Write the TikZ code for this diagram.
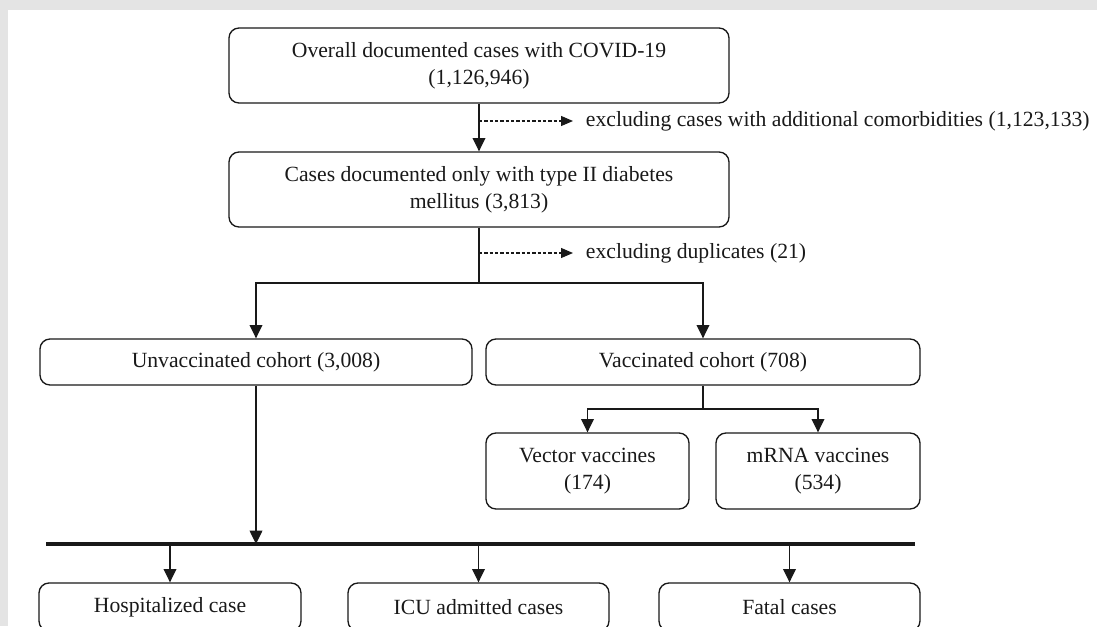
\documentclass[tikz,border=0pt]{standalone}
\usepackage{fontspec}
\setmainfont{Liberation Serif}
\usetikzlibrary{arrows.meta,calc}
\newdimen\pxu \pxu=0.75pt
\definecolor{bggray}{RGB}{228,228,228}
\definecolor{ink}{RGB}{25,25,25}
\begin{document}
\begin{tikzpicture}[x=0.75pt,y=-0.75pt,
  every node/.style={font=\fontsize{16.25}{20.5}\selectfont, text=ink},
  box/.style={draw=ink, line width=1pt, rounded corners=7.5pt, align=center, inner sep=0pt},
  arr/.style={draw=ink, line width=1.05pt, -{Triangle[length=10pt,width=9.5pt]}},
  darr/.style={draw=ink, line width=0.9pt, dash pattern=on 2.4pt off 1.6pt, -{Triangle[length=9pt,width=7.5pt]}},
  heavy/.style={draw=ink, line width=2.3pt},
  plain/.style={draw=ink, line width=1.05pt}]
\useasboundingbox (0,0) rectangle (1097,626);
\clip (0,0) rectangle (1097,626);
\fill[bggray] (0,0) rectangle (1097,626);
\fill[white] (8,10) rectangle (1097,626);

% boxes
\node[box, minimum width=500\pxu, minimum height=75\pxu] (b1) at (479,65.5)
  {Overall documented cases with COVID-19\\(1,126,946)};
\node[box, minimum width=500\pxu, minimum height=75\pxu] (b2) at (479,189.5)
  {Cases documented only with type II diabetes\\mellitus (3,813)};
\node[box, minimum width=432\pxu, minimum height=46\pxu] (unv) at (256,362)
  {Unvaccinated cohort (3,008)};
\node[box, minimum width=434\pxu, minimum height=46\pxu] (vac) at (703,362)
  {Vaccinated cohort (708)};
\node[box, minimum width=203\pxu, minimum height=76\pxu] (vec) at (587.5,471)
  {Vector vaccines\\(174)};
\node[box, minimum width=204\pxu, minimum height=76\pxu] (mrna) at (818,471)
  {mRNA vaccines\\(534)};
\node[box, minimum width=262\pxu, minimum height=48\pxu] (hosp) at (170,607)
  {Hospitalized case};
\node[box, minimum width=261\pxu, minimum height=48\pxu] (icu) at (478.5,607)
  {ICU admitted cases};
\node[box, minimum width=261\pxu, minimum height=48\pxu] (fatal) at (789.5,607)
  {Fatal cases};

% exclusion notes
\node[anchor=west, inner xsep=2pt, inner ysep=0pt] (ex1) at (583,121)
  {excluding cases with additional comorbidities (1,123,133)};
\node[anchor=west, inner xsep=2pt, inner ysep=0pt] (ex2) at (583,253)
  {excluding duplicates (21)};

% coordinates
\coordinate (br) at (479,283);
\coordinate (vbr) at (703,409);
\coordinate (tl) at (46,544);
\coordinate (tr) at (915,544);

% connectors
\draw[arr] (b1.south) -- (b2.north);
\draw[darr, shorten >=10\pxu] (b1.south |- ex1.west) -- (ex1.west);
\draw[plain] (b2.south) -- (br);
\draw[darr, shorten >=10\pxu] (b2.south |- ex2.west) -- (ex2.west);
\draw[arr] (br) -| (unv.north);
\draw[arr] (br) -| (vac.north);
\draw[plain] (vac.south) -- (vbr);
\draw[arr] (vbr) -| (vec.north);
\draw[arr] (vbr) -| (mrna.north);
\draw[arr] (unv.south) -- (unv.south |- tl);
\draw[heavy] (tl) -- (tr);
\draw[arr] (hosp.north |- tl) -- (hosp.north);
\draw[arr] (icu.north |- tl) -- (icu.north);
\draw[arr] (fatal.north |- tl) -- (fatal.north);
\end{tikzpicture}
\end{document}
